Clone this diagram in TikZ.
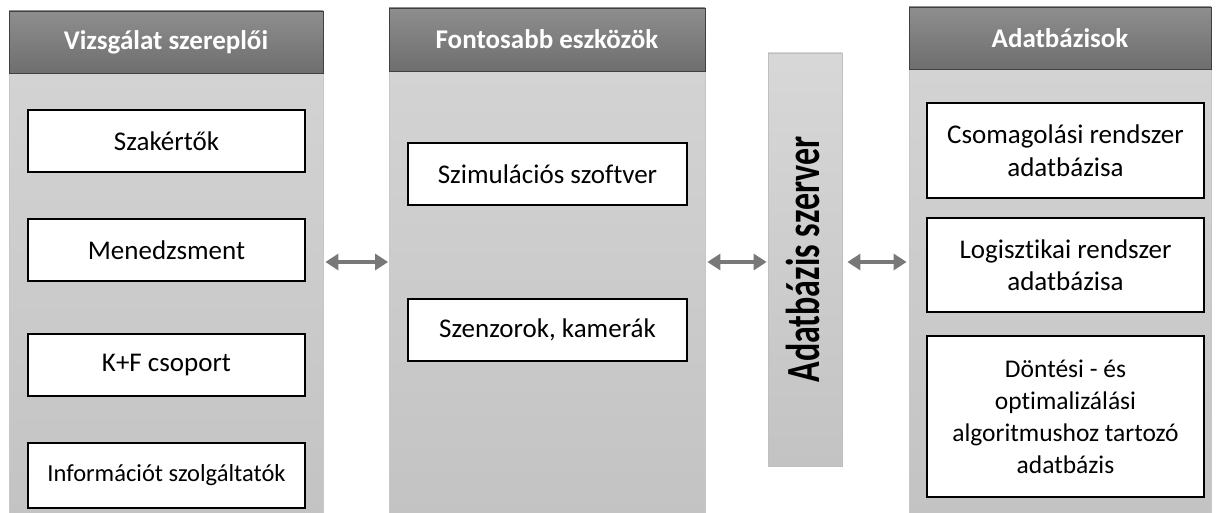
\documentclass[tikz,border=0pt]{standalone}
\usepackage{fontspec}
\setmainfont{Carlito}[Ligatures={NoCommon}]
\usetikzlibrary{arrows.meta}

\definecolor{headtop}{HTML}{8E8E8E}
\definecolor{headbot}{HTML}{6E6E6E}
\definecolor{bodytop}{HTML}{D3D3D3}
\definecolor{bodybot}{HTML}{C3C3C3}
\definecolor{arrowgray}{HTML}{787878}

\tikzset{
  colhead/.style={draw=black!75, line width=0.9pt, top color=headtop, bottom color=headbot,
    text=white, font=\fontsize{27}{30}\selectfont\bfseries, inner sep=0pt},
  colbody/.style={draw=black!22, line width=0.8pt, top color=bodytop, bottom color=bodybot, inner sep=0pt},
  itembox/.style={draw=black, line width=2.2pt, fill=white, align=center,
    font=\fontsize{27}{32.5}\selectfont, inner sep=0pt},
  smalltext/.style={font=\fontsize{24.5}{32}\selectfont},
  serverbar/.style={draw=black!25, line width=0.8pt, top color=bodytop!90!white, bottom color=bodybot, inner sep=0pt},
  biarrow/.style={draw=arrowgray, line width=3.2pt,
    {Triangle[length=13pt,width=16pt]}-{Triangle[length=13pt,width=16pt]}}
}

\begin{document}
\begin{tikzpicture}[x=1pt, y=-1pt]
\useasboundingbox (0,0) rectangle (1220,513);

% left column: participants
\node[colbody, minimum width=314, minimum height=442] (lbody) at (166,294) {};
\node[colhead, minimum width=314, minimum height=62] (lhead) at (166,42) {Vizsgálat szereplői};
\node[itembox, minimum width=277, minimum height=62] (l1) at (166.5,141) {Szakértők};
\node[itembox, minimum width=277, minimum height=62] (l2) at (166.5,250) {Menedzsment};
\node[itembox, minimum width=277, minimum height=62] (l3) at (166.5,365) {K+F csoport};
\node[itembox, smalltext, minimum width=277, minimum height=65] (l4) at (166.5,475.5) {Információt szolgáltatók};

% middle column: tools
\node[colbody, minimum width=316, minimum height=444] (mbody) at (547,293) {};
\node[colhead, minimum width=316, minimum height=63] (mhead) at (547,39.5) {Fontosabb eszközök};
\node[itembox, minimum width=279, minimum height=62] (m1) at (547.5,174) {Szimulációs szoftver};
\node[itembox, minimum width=279, minimum height=62] (m2) at (547.5,330) {Szenzorok, kamerák};

% database server bar
\node[serverbar, minimum width=74, minimum height=413] (srv) at (805,259.5) {};
\node[rotate=90, inner sep=0pt] (srvtext) at (803,259.5)
  {\scalebox{1}[1.4]{\fontsize{34}{34}\selectfont\bfseries Adatbázis szerver}};

% right column: databases
\node[colbody, minimum width=302, minimum height=446] (rbody) at (1060,292) {};
\node[colhead, minimum width=302, minimum height=62] (rhead) at (1060,38) {Adatbázisok};
\node[itembox, minimum width=277, minimum height=95] (r1) at (1065.5,150.5) {Csomagolási rendszer\\adatbázisa};
\node[itembox, minimum width=277, minimum height=94] (r2) at (1065.5,265) {Logisztikai rendszer\\adatbázisa};
\node[itembox, font=\fontsize{25.5}{32}\selectfont, minimum width=277, minimum height=161] (r3) at (1065.5,416.5)
  {Döntési - és\\optimalizálási\\algoritmushoz tartozó\\adatbázis};

% two-way connectors
\coordinate (lvl) at (0,262);
\draw[biarrow] ([xshift=2pt]lbody.east |- lvl) -- ([xshift=-0.5pt]mbody.west |- lvl);
\draw[biarrow] ([xshift=2pt]mbody.east |- lvl) -- ([xshift=-1pt]srv.west |- lvl);
\draw[biarrow] ([xshift=5pt]srv.east |- lvl) -- ([xshift=-2pt]rbody.west |- lvl);
\end{tikzpicture}
\end{document}
